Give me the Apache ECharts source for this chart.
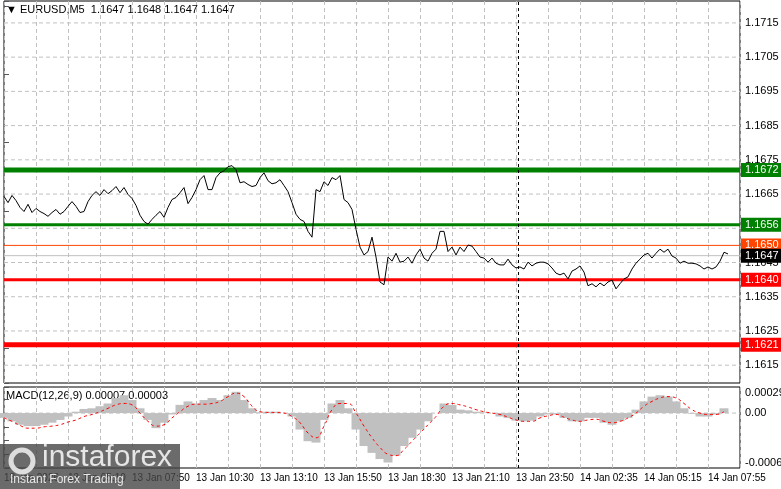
<!DOCTYPE html>
<html><head><meta charset="utf-8">
<script src="https://cdn.jsdelivr.net/npm/echarts@6/dist/echarts.min.js"></script>
<style>html,body{margin:0;padding:0;background:#fff}#c{width:781px;height:489px}</style>
</head><body><div id="c"></div>
<script>
// price closes, one per 10 minutes starting 13 Jan 02:30
const prices = [1.16643,1.16625,1.16646,1.16631,1.16611,1.16599,1.16620,1.16596,1.16608,1.16599,1.16593,1.16585,1.16596,1.16605,1.16591,1.16599,1.16614,1.16628,1.16614,1.16596,1.16599,1.16628,1.16646,1.16657,1.16646,1.16663,1.16651,1.16660,1.16672,1.16654,1.16669,1.16649,1.16637,1.16617,1.16588,1.16570,1.16562,1.16576,1.16588,1.16599,1.16582,1.16611,1.16634,1.16640,1.16654,1.16669,1.16622,1.16640,1.16663,1.16692,1.16704,1.16663,1.16663,1.16698,1.16712,1.16718,1.16730,1.16733,1.16721,1.16683,1.16686,1.16678,1.16672,1.16675,1.16698,1.16712,1.16689,1.16680,1.16683,1.16692,1.16675,1.16657,1.16625,1.16591,1.16576,1.16570,1.16541,1.16524,1.16663,1.16657,1.16686,1.16675,1.16698,1.16692,1.16704,1.16634,1.16625,1.16605,1.16547,1.16495,1.16472,1.16482,1.16524,1.16466,1.16393,1.16385,
1.16466,1.16454,1.16477,1.16451,1.16454,1.16466,1.16448,1.16472,1.16489,1.16463,1.16454,1.16477,1.16489,1.16541,1.16541,1.16482,1.16495,1.16472,1.16495,1.16482,1.16501,1.16498,1.16482,1.16466,1.16463,1.16451,1.16463,1.16448,1.16443,1.16443,1.16460,1.16443,1.16434,1.16437,1.16431,1.16451,1.16440,1.16448,1.16451,1.16451,1.16446,1.16434,1.16419,1.16414,1.16419,1.16402,1.16425,1.16431,1.16440,1.16422,1.16382,1.16388,1.16379,1.16390,1.16382,1.16393,1.16399,1.16373,1.16388,1.16402,1.16408,1.16431,1.16448,1.16460,1.16472,1.16477,1.16463,1.16477,1.16489,1.16480,1.16489,1.16469,1.16463,1.16448,1.16454,1.16448,1.16448,1.16446,1.16440,1.16431,1.16437,1.16431,1.16437,1.16454,1.16480,1.16475];
// MACD histogram and signal, one per 20 minutes
const macdHist = [-0.00007,-0.00012,-0.00017,-0.00019,-0.00019,-0.00017,-0.00014,-0.0001,-0.00005,0.00002,0.00006,0.00007,0.0001,0.00014,0.00022,0.00026,0.00019,0.00007,-0.0001,-0.00022,-0.00014,-0.00002,0.00012,0.00017,0.00014,0.00019,0.00022,0.00019,0.00026,0.00031,0.00019,0.00007,0.00001,0.00002,0.00002,0,-0.00005,-0.00024,-0.00041,-0.00043,-0.0001,0.00014,0.00019,0.00007,-0.00024,-0.00048,-0.00058,-0.00067,-0.00072,-0.00062,-0.00048,-0.00036,-0.00024,-0.00012,0,0.00014,0.00012,0.00005,0.00004,0.00002,0.00001,0,-0.00005,-0.00007,-0.00011,-0.00012,-0.00011,-0.00005,-0.00002,-0.00002,-0.00007,-0.00012,-0.00012,-0.00007,-0.00007,-0.00014,-0.00017,-0.00012,-0.00007,0.00005,0.00017,0.00024,0.00026,0.00024,0.00017,0.00007,-0.00001,-0.00005,-0.00005,-0.00002,0.00007];
const macdSignal = [-0.00007,-0.00012,-0.00018,-0.00022,-0.00022,-0.0002,-0.00019,-0.00017,-0.00013,-0.0001,-0.00005,-0.00002,0.00002,0.00007,0.00012,0.00014,0.00012,0,-0.00012,-0.00019,-0.00017,-0.00007,0.00002,0.0001,0.00013,0.00013,0.00014,0.00017,0.00024,0.00029,0.00024,0.0001,0.00002,0.00001,0.00001,0,-0.00005,-0.00014,-0.00029,-0.00036,-0.00019,0.00005,0.00014,0.00014,0,-0.00019,-0.00036,-0.0005,-0.0006,-0.00062,-0.00053,-0.00041,-0.00029,-0.00017,-0.00005,0.0001,0.00014,0.00012,0.00009,0.00005,0.00002,0,-0.00002,-0.00006,-0.0001,-0.00012,-0.00012,-0.00007,-0.00004,-0.00002,-0.00006,-0.0001,-0.00012,-0.0001,-0.00009,-0.00012,-0.00014,-0.00012,-0.00007,0,0.0001,0.00017,0.00022,0.00024,0.00022,0.00014,0.00005,0,-0.00002,-0.00002,0.00002];
const timeLabels = ["13 Jan 2026","13 Jan 05:10","13 Jan 07:50","13 Jan 10:30","13 Jan 13:10","13 Jan 15:50","13 Jan 18:30","13 Jan 21:10","13 Jan 23:50","14 Jan 02:35","14 Jan 05:15","14 Jan 07:55"];
const priceTicks = [1.1615,1.1625,1.1635,1.1645,1.1655,1.1665,1.1675,1.1685,1.1695,1.1705,1.1715];
const macdTicks = [0.00029,0,-0.00063];
const levels = [
  {v:1.1672,c:'#008000',w:5,label:'1.1672'},
  {v:1.1656,c:'#008000',w:3,label:'1.1656'},
  {v:1.1650,c:'#ff4500',w:1,label:'1.1650'},
  {v:1.1647,c:'#c0c0c0',w:1,label:'1.1647',bg:'#000'},
  {v:1.1640,c:'#ff0000',w:3,label:'1.1640'},
  {v:1.1621,c:'#ff0000',w:5,label:'1.1621'}
];
const F='Liberation Sans, Arial, sans-serif';
const XMAX=184;
const chart = echarts.init(document.getElementById('c'));
const xCommon = {type:'value',min:0,max:XMAX,interval:8,axisTick:{show:false},axisLine:{show:false},
  splitLine:{show:true,lineStyle:{color:'#c0c0c0',type:[4,3]}}};
function hline(ax,v,color,width,type,text,bg,txtColor,z){
  return {type:'line',xAxisIndex:ax,yAxisIndex:ax,data:[[0,v],[XMAX,v]],symbol:'none',silent:true,z:z,
    lineStyle:{color:color,width:width,type:type,opacity:width?1:0},
    endLabel:{show:true,formatter:text,color:txtColor,backgroundColor:bg||'transparent',fontSize:11,fontFamily:F,
      padding:bg?[2,4,1,4]:[0,0,0,0],distance:bg?1:5}};
}
const series=[];
priceTicks.forEach(v=>series.push(hline(0,v,'#c0c0c0',1,[4,3],v.toFixed(4),null,'#000',1)));
levels.forEach(l=>series.push(hline(0,l.v,l.c,l.w,'solid',l.label,l.bg||l.c,'#fff',3)));
series.push({type:'line',xAxisIndex:0,yAxisIndex:0,data:prices.map((p,i)=>[i,p]),symbol:'none',lineStyle:{color:'#000',width:1},z:5,
  markLine:{symbol:'none',silent:true,animation:false,data:[{xAxis:128.5,lineStyle:{color:'#000',type:[3,3],width:1},label:{show:false}}]}});
series.push(hline(1,0,'#c0c0c0',1,[4,3],'0.00',null,'#000',1));
series.push(hline(1,macdTicks[0],'#fff',0,'solid','0.00029',null,'#000',1));
series.push(hline(1,-0.00072,'#fff',0,'solid','-0.00063',null,'#000',1));
series.push({type:'bar',xAxisIndex:1,yAxisIndex:1,data:macdHist.map((v,k)=>[2*k,v]),barWidth:9,itemStyle:{color:'#c0c0c0'},z:2,
  markLine:{symbol:'none',silent:true,animation:false,data:[{xAxis:128.5,lineStyle:{color:'#000',type:[3,3],width:1},label:{show:false}}]}});
series.push({type:'line',xAxisIndex:1,yAxisIndex:1,data:macdSignal.map((v,k)=>[2*k,v]),symbol:'none',smooth:true,lineStyle:{color:'#ff0000',width:1,type:[3,3]},z:5});
chart.setOption({
  animation:false,
  grid:[{left:4,right:41,top:1,height:382,show:true,borderColor:'#000',borderWidth:1},
        {left:4,right:41,top:387,height:81,show:true,borderColor:'#000',borderWidth:1}],
  xAxis:[Object.assign({gridIndex:0,axisLabel:{show:false}},xCommon),
         Object.assign({gridIndex:1,axisLabel:{show:true,color:'#000',fontSize:10,fontFamily:F,align:'left',margin:5,
           formatter:v=>(v%16===0)?(timeLabels[v/16]||''):''}},xCommon)],
  yAxis:[{gridIndex:0,type:'value',min:1.16098,max:1.17214,position:'right',splitLine:{show:false},axisLabel:{show:false},axisLine:{show:false}},
         {gridIndex:1,type:'value',min:-0.0008,max:0.00038,position:'right',splitLine:{show:false},axisLabel:{show:false},axisLine:{show:false}}],
  series:series,
  graphic:[
    {type:'text',left:6,top:4,style:{text:'▼ EURUSD,M5  1.1647 1.1648 1.1647 1.1647',fill:'#000',font:'11px '+F}},
    {type:'text',left:6,top:390,style:{text:'MACD(12,26,9) 0.00007 0.00003',fill:'#000',font:'11px '+F}},
    {type:'rect',shape:{x:0,y:444,width:180,height:45},style:{fill:'rgba(70,70,70,0.8)'},z:100},
    {type:'circle',shape:{cx:22,cy:461,r:11},style:{fill:'none',stroke:'#ddd',lineWidth:5},z:101},
    {type:'text',x:42,y:443,style:{text:'instaforex',fill:'#e6e6e6',font:'30px '+F},z:101},
    {type:'text',x:10,y:474,style:{text:'Instant Forex Trading',fill:'#e6e6e6',font:'12px '+F},z:101}
  ]
});
</script></body></html>
